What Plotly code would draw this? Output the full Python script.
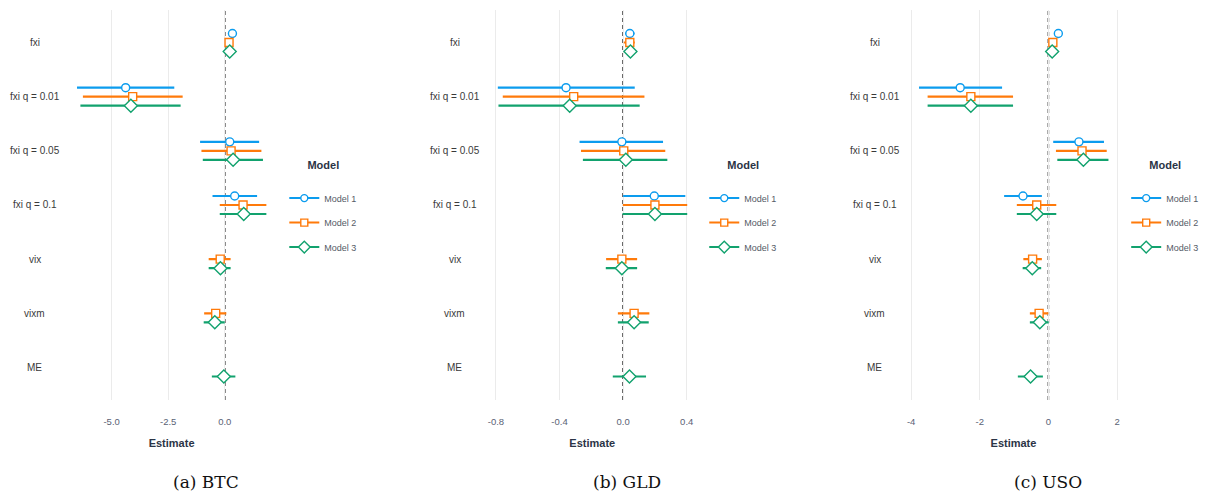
import plotly.graph_objects as go

# ---------------- data ----------------
categories = ["fxi", "fxi q = 0.01", "fxi q = 0.05", "fxi q = 0.1", "vix", "vixm", "ME"]
models = ["Model 1", "Model 2", "Model 3"]
panel_names = ["(a) BTC", "(b) GLD", "(c) USO"]

# BTC
btc_m1_est = [0.34, -4.38, 0.22, 0.44, None, None, None]
btc_m1_lo = [0.24, -6.53, -1.09, -0.54, None, None, None]
btc_m1_hi = [0.44, -2.23, 1.52, 1.43, None, None, None]
btc_m2_est = [0.19, -4.07, 0.28, 0.81, -0.20, -0.40, None]
btc_m2_lo = [0.09, -6.27, -1.03, -0.22, -0.71, -0.91, None]
btc_m2_hi = [0.29, -1.86, 1.62, 1.84, 0.26, 0.07, None]
btc_m3_est = [0.22, -4.15, 0.37, 0.84, -0.19, -0.44, -0.04]
btc_m3_lo = [0.12, -6.38, -0.97, -0.22, -0.71, -0.93, -0.57]
btc_m3_hi = [0.32, -1.95, 1.69, 1.84, 0.26, 0.00, 0.47]

# GLD
gld_m1_est = [0.042, -0.359, -0.008, 0.196, None, None, None]
gld_m1_lo = [0.012, -0.788, -0.274, 0.000, None, None, None]
gld_m1_hi = [0.072, 0.073, 0.251, 0.391, None, None, None]
gld_m2_est = [0.042, -0.311, 0.004, 0.200, -0.008, 0.069, None]
gld_m2_lo = [0.004, -0.757, -0.265, -0.002, -0.107, -0.033, None]
gld_m2_hi = [0.073, 0.134, 0.265, 0.403, 0.088, 0.165, None]
gld_m3_est = [0.046, -0.336, 0.017, 0.200, -0.008, 0.069, 0.040]
gld_m3_lo = [0.015, -0.784, -0.253, -0.004, -0.109, -0.033, -0.065]
gld_m3_hi = [0.084, 0.104, 0.278, 0.403, 0.088, 0.161, 0.144]

# USO
uso_m1_est = [0.29, -2.57, 0.89, -0.74, None, None, None]
uso_m1_lo = [0.21, -3.77, 0.14, -1.29, None, None, None]
uso_m1_hi = [0.37, -1.35, 1.62, -0.19, None, None, None]
uso_m2_est = [0.13, -2.26, 0.98, -0.34, -0.46, -0.27, None]
uso_m2_lo = [0.03, -3.52, 0.22, -0.92, -0.73, -0.54, None]
uso_m2_hi = [0.23, -1.03, 1.70, 0.23, -0.19, 0.00, None]
uso_m3_est = [0.11, -2.26, 1.02, -0.34, -0.47, -0.25, -0.52]
uso_m3_lo = [0.03, -3.52, 0.26, -0.92, -0.75, -0.54, -0.89]
uso_m3_hi = [0.19, -1.03, 1.75, 0.23, -0.21, 0.01, -0.16]

btc_ticks = [-5.0, -2.5, 0.0]
btc_ticktext = ["-5.0", "-2.5", "0.0"]
gld_ticks = [-0.8, -0.4, 0.0, 0.4]
gld_ticktext = ["-0.8", "-0.4", "0.0", "0.4"]
uso_ticks = [-4, -2, 0, 2]
uso_ticktext = ["-4", "-2", "0", "2"]

panel_data = [
    [(btc_m1_est, btc_m1_lo, btc_m1_hi), (btc_m2_est, btc_m2_lo, btc_m2_hi), (btc_m3_est, btc_m3_lo, btc_m3_hi)],
    [(gld_m1_est, gld_m1_lo, gld_m1_hi), (gld_m2_est, gld_m2_lo, gld_m2_hi), (gld_m3_est, gld_m3_lo, gld_m3_hi)],
    [(uso_m1_est, uso_m1_lo, uso_m1_hi), (uso_m2_est, uso_m2_lo, uso_m2_hi), (uso_m3_est, uso_m3_lo, uso_m3_hi)],
]
panel_ticks = [(btc_ticks, btc_ticktext), (gld_ticks, gld_ticktext), (uso_ticks, uso_ticktext)]

# ---------------- styles / layout ----------------
W, H = 1207, 492
colors = ["#0C9CEE", "#FF7A0A", "#12A26E"]
symbols = ["circle", "square", "diamond"]
msizes = [8, 8, 10]
dodge = [-0.166, 0.0, 0.166]

# pixel geometry of the three plot areas
px_left = [65, 487.5, 909]
px_right = [275, 696, 1119]
x_ranges = [[-6.98, 2.28], [-0.848, 0.46], [-4.07, 2.035]]
label_cx = [33, 454, 875]
legend_left = [283, 704, 1127]
caption_cx = [205, 627, 1049]
plot_top, plot_bottom = 10, 400

tick_color = "#5A6275"
label_color = "#3A3A3A"
title_color = "#2B3446"

fig = go.Figure()
legend_keys = ["legend", "legend2", "legend3"]

for p in range(3):
    xa = "x" if p == 0 else f"x{p+1}"
    ya = "y" if p == 0 else f"y{p+1}"
    for m in range(3):
        est, lo, hi = panel_data[p][m]
        xs, ys, plus, minus = [], [], [], []
        for i, e in enumerate(est):
            if e is None:
                continue
            xs.append(e)
            ys.append(i + dodge[m])
            plus.append(hi[i] - e)
            minus.append(e - lo[i])
        fig.add_trace(go.Scatter(
            x=xs, y=ys, xaxis=xa, yaxis=ya, mode="markers",
            marker=dict(symbol=symbols[m], size=msizes[m], color="white",
                        line=dict(color=colors[m], width=1.4)),
            error_x=dict(type="data", symmetric=False, array=plus, arrayminus=minus,
                         color=colors[m], thickness=2.2, width=0),
            showlegend=False, hoverinfo="skip",
        ))
        # legend entry
        fig.add_trace(go.Scatter(
            x=[None], y=[None], xaxis=xa, yaxis=ya, mode="lines+markers",
            name=models[m], legend=legend_keys[p], legendgroup=f"p{p}m{m}",
            line=dict(color=colors[m], width=2),
            marker=dict(symbol=symbols[m], size=msizes[m] - 1, color="white",
                        line=dict(color=colors[m], width=1.4)),
            showlegend=True,
        ))

layout = dict(
    width=W, height=H,
    margin=dict(l=0, r=0, t=0, b=0),
    paper_bgcolor="white", plot_bgcolor="white",
    font=dict(family="Liberation Sans, Arial, sans-serif", size=10, color=label_color),
)

ydom = [1 - plot_bottom / H, 1 - plot_top / H]
for p in range(3):
    sx = "" if p == 0 else str(p + 1)
    layout[f"xaxis{sx}"] = dict(
        domain=[px_left[p] / W, px_right[p] / W], range=x_ranges[p],
        tickvals=panel_ticks[p][0], ticktext=panel_ticks[p][1],
        showgrid=True, gridcolor="#EBEBEB", gridwidth=1, zeroline=False,
        showline=False, ticks="outside", ticklen=13, tickcolor="rgba(0,0,0,0)",
        tickfont=dict(size=9.5, color=tick_color),
        title=dict(text="<b>Estimate</b>", font=dict(size=11, color=title_color), standoff=12),
        anchor="y" + sx if p > 0 else "y", fixedrange=True,
    )
    layout[f"yaxis{sx}"] = dict(
        domain=ydom, range=[6.6, -0.6], showgrid=False, zeroline=False,
        showticklabels=False, showline=False, anchor="x" + sx if p > 0 else "x",
        fixedrange=True,
    )
    layout[legend_keys[p]] = dict(
        x=legend_left[p] / W, xanchor="left", y=1 - 155 / H, yanchor="top",
        title=dict(text="<b>Model</b><br> ", font=dict(size=11, color=title_color), side="top center"),
        font=dict(size=9, color="#555B66"), itemwidth=30, tracegroupgap=5.5,
        bgcolor="rgba(0,0,0,0)", borderwidth=0,
    )

fig.update_layout(**layout)

# zero reference lines, y-category labels and captions
for p in range(3):
    xa = "x" if p == 0 else f"x{p+1}"
    ya = "y" if p == 0 else f"y{p+1}"
    fig.add_shape(type="line", xref=xa, yref=f"{ya} domain", x0=0, x1=0, y0=0, y1=1,
                  line=dict(color="#111111", width=1.5, dash="4px,3px"), layer="below")
    for i, c in enumerate(categories):
        fig.add_annotation(text=c, x=label_cx[p] / W, xref="paper", xanchor="center",
                           y=i, yref=ya, yanchor="middle", showarrow=False,
                           font=dict(size=10, color=label_color))
    fig.add_annotation(text=panel_names[p], x=caption_cx[p] / W, xref="paper", xanchor="center",
                       y=1 - 482 / H, yref="paper", yanchor="middle", showarrow=False,
                       font=dict(family="DejaVu Serif, serif", size=17, color="#111111"))

fig.write_html("out.html", config={"displayModeBar": False},
               post_script="document.body.style.margin='0';document.body.style.overflow='hidden';")
